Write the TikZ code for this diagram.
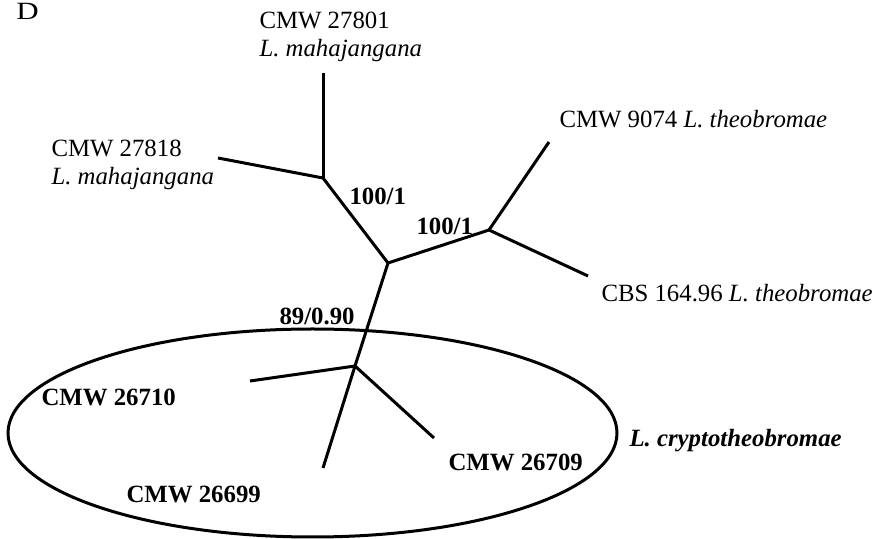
\documentclass[tikz,border=0pt]{standalone}
\usepackage{fontspec}
\setmainfont{Liberation Serif}
\begin{document}
\begin{tikzpicture}[x=0.5pt,y=-0.5pt,line width=1.5pt,
   font=\fontsize{12.4}{14.3}\selectfont,
   every node/.style={inner sep=0pt,anchor=base west,align=left},
   support/.style={font=\fontsize{12.4}{14.3}\selectfont\bfseries}]
   \useasboundingbox (0,0) rectangle (879,539);
   % Internal nodes
   \coordinate (root) at (388,263);
   \coordinate (mah)  at (323,178);
   \coordinate (theo) at (489,230);
   \coordinate (cry)  at (355,366);
   % Tips
   \coordinate (t27801) at (323,73);
   \coordinate (t27818) at (218,158);
   \coordinate (t9074)  at (549,142);
   \coordinate (t16496) at (588,276);
   \coordinate (t26710) at (250,381);
   \coordinate (t26699) at (323,468);
   \coordinate (t26709) at (434,438);
   % Branches
   \draw (root) -- (mah);
   \draw (mah) -- (t27801);
   \draw (mah) -- (t27818);
   \draw (root) -- (theo);
   \draw (theo) -- (t9074);
   \draw (theo) -- (t16496);
   \draw (root) -- (cry);
   \draw (cry) -- (t26710);
   \draw (cry) -- (t26699);
   \draw (cry) -- (t26709);
   % Clade
   \draw (312.5,433) ellipse [x radius=304.5, y radius=104];
   % Panel letter
   \node (panel) at (15,20) {\scalebox{1.25}[1]{D}};
   % Strain labels (base = last line)
   \node (n27801) at (258,57) {CMW 27801\\\textit{L. mahajangana}};
   \node (n27818) at (50,185) {CMW 27818\\\textit{L. mahajangana}};
   \node (n9074)  at (558,128) {CMW 9074 \textit{L. theobromae}};
   \node (n16496) at (600,302) {CBS 164.96 \textit{L. theobromae}};
   \node[support] (n26710) at (40,406) {CMW 26710};
   \node[support] (n26699) at (125,503) {CMW 26699};
   \node[support] (n26709) at (447,471) {CMW 26709};
   \node[support] (ncry) at (628,447) {\textit{L. cryptotheobromae}};
   % Support values
   \node[support] (s1) at (348,205) {100/1};
   \node[support] (s2) at (415,235) {100/1};
   \node[support] (s3) at (278,325) {89/0.90};
\end{tikzpicture}
\end{document}
